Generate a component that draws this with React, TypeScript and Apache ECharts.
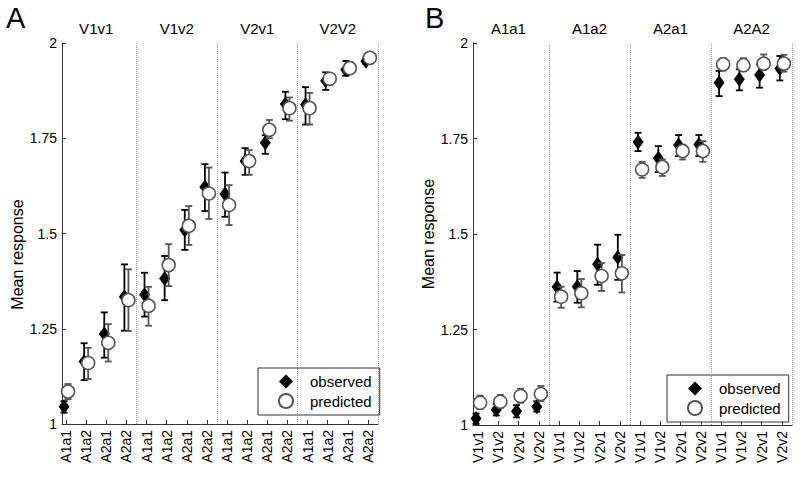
import React, { useEffect, useRef } from "react";
import * as echarts from "echarts";

// ---------- data ----------
const innerA = ["A1a1", "A1a2", "A2a1", "A2a2"];
const groupsA = ["V1v1", "V1v2", "V2v1", "V2V2"];
const innerB = ["V1v1", "V1v2", "V2v1", "V2v2"];
const groupsB = ["A1a1", "A1a2", "A2a1", "A2A2"];
const yTicks = [1, 1.25, 1.5, 1.75, 2];

const obsA = [1.045, 1.164, 1.236, 1.334, 1.339, 1.382, 1.509, 1.622, 1.604, 1.69, 1.738, 1.84, 1.838, 1.901, 1.93, 1.952];
const obsALo = [1.03, 1.115, 1.174, 1.245, 1.282, 1.325, 1.457, 1.559, 1.544, 1.654, 1.709, 1.8, 1.786, 1.877, 1.914, 1.945];
const obsAHi = [1.06, 1.212, 1.293, 1.419, 1.397, 1.441, 1.562, 1.682, 1.66, 1.724, 1.758, 1.872, 1.884, 1.923, 1.953, 1.962];
const predA = [1.085, 1.16, 1.213, 1.325, 1.31, 1.417, 1.52, 1.605, 1.575, 1.69, 1.772, 1.829, 1.829, 1.906, 1.934, 1.961];
const predALo = [1.065, 1.118, 1.164, 1.244, 1.258, 1.362, 1.47, 1.538, 1.522, 1.654, 1.75, 1.796, 1.786, 1.89, 1.92, 1.95];
const predAHi = [1.105, 1.2, 1.262, 1.406, 1.36, 1.472, 1.572, 1.673, 1.627, 1.719, 1.798, 1.857, 1.869, 1.92, 1.95, 1.97];

const obsB = [1.017, 1.04, 1.036, 1.048, 1.361, 1.362, 1.421, 1.439, 1.741, 1.698, 1.733, 1.734, 1.896, 1.905, 1.916, 1.933];
const obsBLo = [1.003, 1.025, 1.02, 1.035, 1.323, 1.32, 1.367, 1.38, 1.717, 1.662, 1.704, 1.704, 1.861, 1.876, 1.883, 1.902];
const obsBHi = [1.03, 1.055, 1.052, 1.062, 1.399, 1.403, 1.472, 1.498, 1.765, 1.73, 1.759, 1.759, 1.927, 1.931, 1.944, 1.966];
const predB = [1.058, 1.061, 1.076, 1.081, 1.336, 1.345, 1.39, 1.397, 1.669, 1.675, 1.717, 1.717, 1.944, 1.942, 1.946, 1.946];
const predBLo = [1.042, 1.045, 1.058, 1.063, 1.307, 1.308, 1.351, 1.347, 1.647, 1.652, 1.695, 1.689, 1.928, 1.926, 1.93, 1.925];
const predBHi = [1.077, 1.079, 1.095, 1.102, 1.362, 1.382, 1.424, 1.445, 1.689, 1.695, 1.734, 1.743, 1.96, 1.96, 1.97, 1.969];

// ---------- helpers ----------
const FONT = "Liberation Sans, Arial, Helvetica, sans-serif";
const OBS_COLOR = "#000";
const PRED_COLOR = "#555";
const AXIS_COLOR = "#333";

function errRender(color: string, width: number) {
  return (params: any, api: any) => {
    const x = api.value(0);
    const p1 = api.coord([x, api.value(1)]);
    const p2 = api.coord([x, api.value(2)]);
    const w = 3.5;
    const style = { stroke: color, lineWidth: width };
    return {
      type: "group",
      children: [
        { type: "line", shape: { x1: p1[0], y1: p1[1], x2: p2[0], y2: p2[1] }, style },
        { type: "line", shape: { x1: p1[0] - w, y1: p1[1], x2: p1[0] + w, y2: p1[1] }, style },
        { type: "line", shape: { x1: p2[0] - w, y1: p2[1], x2: p2[0] + w, y2: p2[1] }, style },
      ],
    };
  };
}

function buildPanel(
  idx: number,
  inner: string[],
  groups: string[],
  obs: number[],
  obsLo: number[],
  obsHi: number[],
  pred: number[],
  predLo: number[],
  predHi: number[],
  xMin: number,
  nameGap: number,
  namePad: number[]
) {
  const n = inner.length * groups.length;
  const positions = Array.from({ length: n }, (_, i) => i + 1);
  const centers = groups.map((_, g) => g * inner.length + (inner.length + 1) / 2);
  const seps = groups.map((_, g) => (g + 1) * inner.length + 0.5);
  const xMax = n + 0.5;
  const off = 0.1;

  const xBottom = {
    type: "value",
    gridIndex: idx,
    min: xMin,
    max: xMax,
    axisLine: { show: true, lineStyle: { color: AXIS_COLOR, width: 1 } },
    axisTick: { show: true, inside: true, length: 4, customValues: positions, lineStyle: { color: AXIS_COLOR } },
    axisLabel: {
      customValues: positions,
      rotate: 90,
      margin: 6,
      fontSize: 14,
      fontFamily: FONT,
      color: "#000",
      formatter: (v: number) => inner[(Math.round(v) - 1) % inner.length],
    },
    splitLine: { show: false },
  };
  const xTop = {
    type: "value",
    gridIndex: idx,
    position: "top",
    min: xMin,
    max: xMax,
    axisLine: { show: false },
    axisTick: { show: false },
    splitLine: { show: false },
    axisLabel: {
      customValues: centers,
      margin: 7,
      fontSize: 15,
      fontFamily: FONT,
      color: "#000",
      formatter: (v: number) => groups[Math.floor(v / inner.length)],
    },
  };
  const yAx = {
    type: "value",
    gridIndex: idx,
    min: yTicks[0],
    max: yTicks[yTicks.length - 1],
    interval: yTicks[1] - yTicks[0],
    axisLine: { show: true, lineStyle: { color: AXIS_COLOR, width: 1 } },
    axisTick: { show: true, inside: true, length: 4, lineStyle: { color: AXIS_COLOR } },
    axisLabel: { fontSize: 14, margin: 5, fontFamily: FONT, color: "#000", formatter: (v: number) => String(v) },
    splitLine: { show: false },
    name: "Mean response",
    nameLocation: "middle",
    nameGap,
    nameTextStyle: { fontSize: 16, fontFamily: FONT, color: "#000", padding: namePad },
  };

  const xi = idx * 2;
  const series = [
    {
      type: "custom",
      xAxisIndex: xi,
      yAxisIndex: idx,
      renderItem: errRender(OBS_COLOR, 1.8),
      encode: { x: 0, y: [1, 2] },
      data: positions.map((p, i) => [p - off, obsLo[i], obsHi[i]]),
      z: 2,
      silent: true,
    },
    {
      name: "observed",
      type: "scatter",
      xAxisIndex: xi,
      yAxisIndex: idx,
      symbol: "diamond",
      symbolSize: [11, 15],
      itemStyle: { color: OBS_COLOR, opacity: 1 },
      data: positions.map((p, i) => [p - off, obs[i]]),
      z: 3,
      markLine: {
        silent: true,
        symbol: "none",
        label: { show: false },
        lineStyle: { type: "dotted", color: "#999", width: 1 },
        data: seps.map((s) => ({ xAxis: s })),
      },
    },
    {
      type: "custom",
      xAxisIndex: xi,
      yAxisIndex: idx,
      renderItem: errRender(PRED_COLOR, 1.8),
      encode: { x: 0, y: [1, 2] },
      data: positions.map((p, i) => [p + off, predLo[i], predHi[i]]),
      z: 4,
      silent: true,
    },
    {
      name: "predicted",
      type: "scatter",
      xAxisIndex: xi,
      yAxisIndex: idx,
      symbol: "circle",
      symbolSize: 13,
      itemStyle: { color: "#fff", borderColor: PRED_COLOR, borderWidth: 1.5, opacity: 1 },
      data: positions.map((p, i) => [p + off, pred[i]]),
      z: 5,
    },
  ];
  return { xAxes: [xBottom, xTop], yAxis: yAx, series };
}

export default function App() {
  const ref = useRef<HTMLDivElement>(null);
  useEffect(() => {
    if (!ref.current) return;
    document.body.style.margin = "0";
    const chart = echarts.init(ref.current, null, { renderer: "svg" });
    const pA = buildPanel(0, innerA, groupsA, obsA, obsALo, obsAHi, predA, predALo, predAHi, 0.8, 30, [0, 42, 0, 0]);
    const pB = buildPanel(1, innerB, groupsB, obsB, obsBLo, obsBHi, predB, predBLo, predBHi, 0.75, 25, [0, 0, 0, 0]);

    const legendBase = {
      orient: "vertical",
      data: ["observed", "predicted"],
      backgroundColor: "#fff",
      borderColor: "#333",
      borderWidth: 1,
      borderRadius: 0,
      padding: [6, 8, 6, 20],
      itemGap: 4,
      itemWidth: 14,
      itemHeight: 14,
      selectedMode: false,
      textStyle: { fontSize: 15, fontFamily: FONT, color: "#000", padding: [0, 0, 0, 12] },
    };

    chart.setOption({
      animation: false,
      backgroundColor: "#fff",
      textStyle: { fontFamily: FONT },
      grid: [
        { left: 62, right: 422, top: 43, bottom: 56 },
        { left: 473, right: 8, top: 43, bottom: 55 },
      ],
      xAxis: [...pA.xAxes, ...pB.xAxes],
      yAxis: [pA.yAxis, pB.yAxis],
      legend: [
        { ...legendBase, left: 258, top: 368 },
        { ...legendBase, left: 667, top: 375 },
      ],
      graphic: [
        { type: "text", left: 6, top: 3, style: { text: "A", fontSize: 29, fontFamily: FONT, fill: "#000" } },
        { type: "text", left: 425, top: 3, style: { text: "B", fontSize: 29, fontFamily: FONT, fill: "#000" } },
      ],
      series: [...pA.series, ...pB.series],
    });
    return () => chart.dispose();
  }, []);
  return <div ref={ref} style={{ width: 800, height: 480 }} />;
}
